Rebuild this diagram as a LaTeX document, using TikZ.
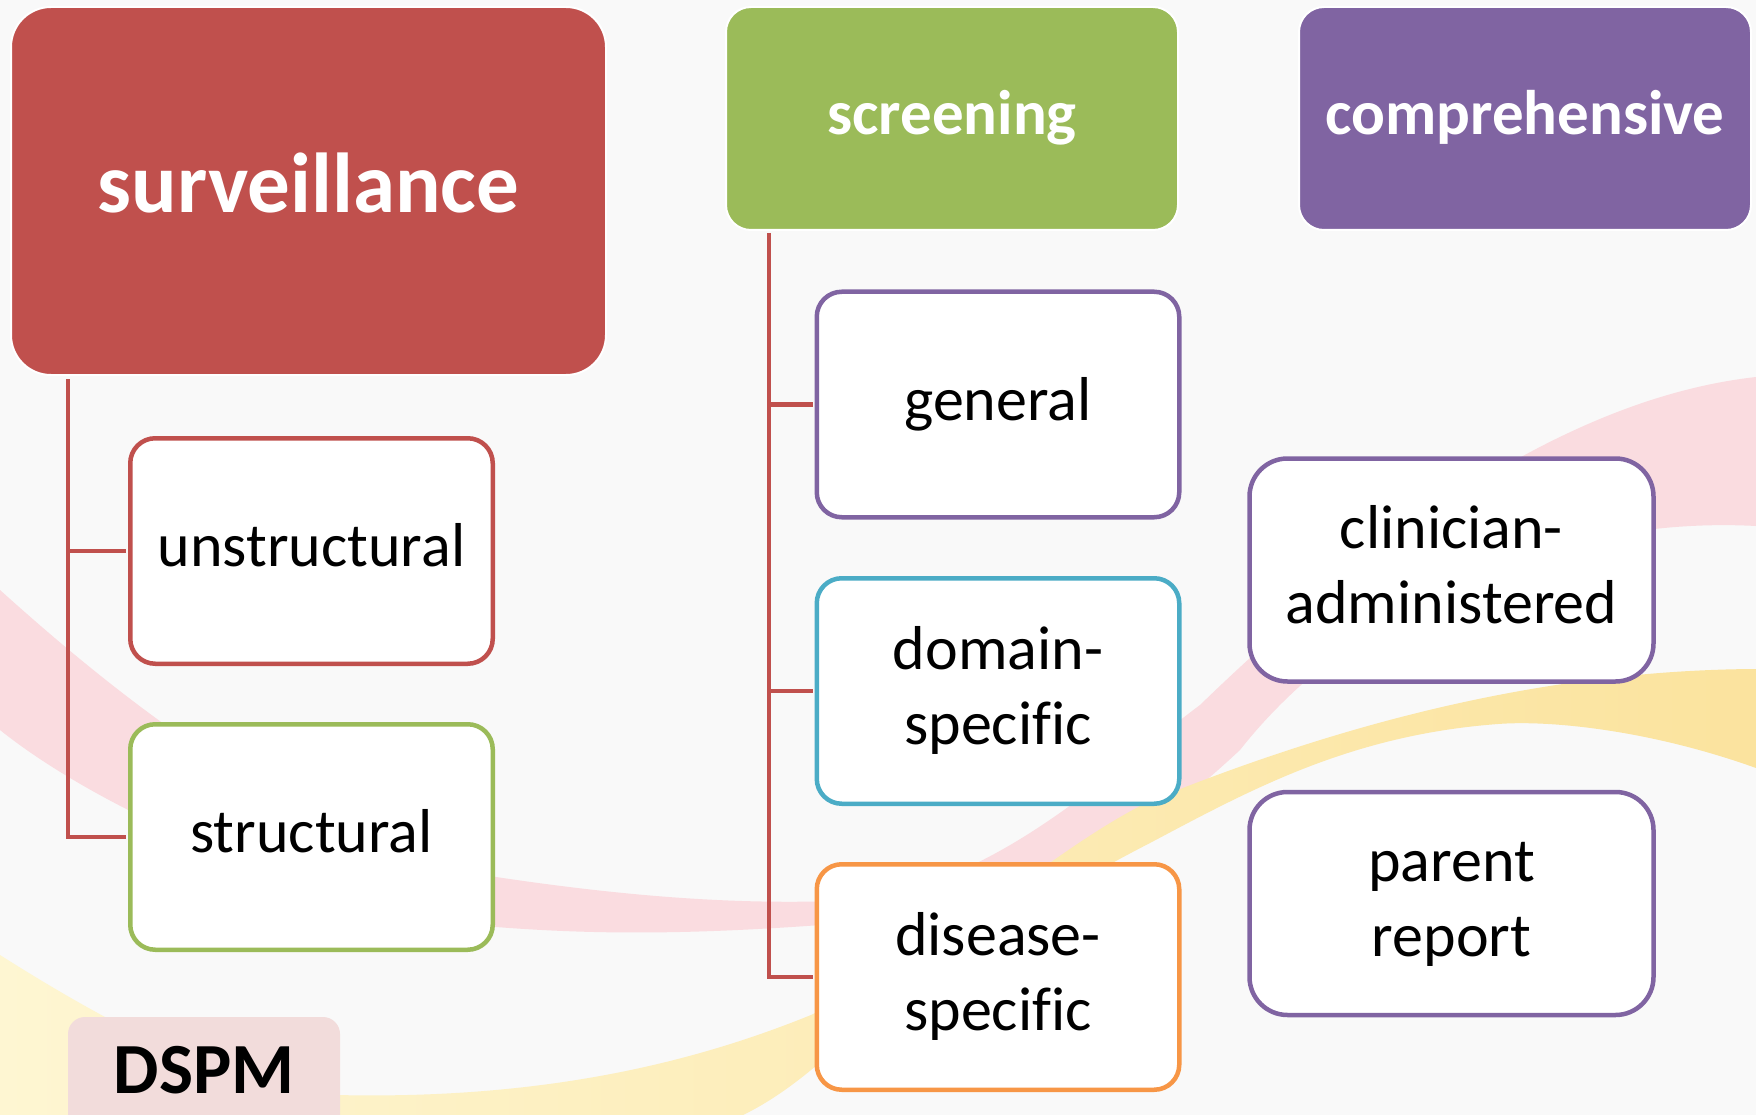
\documentclass[tikz,border=0pt]{standalone}
\usepackage{fontspec}
\setmainfont[Ligatures=NoCommon]{Carlito}
\definecolor{survred}{HTML}{C0504D}
\definecolor{scrgreen}{HTML}{9BBB59}
\definecolor{comppurple}{HTML}{8064A2}
\definecolor{domblue}{HTML}{4BACC6}
\definecolor{disorange}{HTML}{F79646}
\definecolor{dspmpink}{HTML}{F2DCDB}
\definecolor{bgcol}{HTML}{F9F9F9}
\definecolor{pinkband}{HTML}{FADCE0}
\definecolor{yellowL}{HTML}{FEF6D2}
\definecolor{yellowR}{HTML}{FBE39E}
\begin{document}
\begin{tikzpicture}[x=1pt,y=-1pt,
  hdr/.style={rectangle, rounded corners=25pt, draw=white, line width=2pt, text=white, inner sep=0pt,
    font=\bfseries\fontsize{63}{76}\selectfont, text height=47.25pt, text depth=15.75pt,
    minimum width=452pt, minimum height=223pt},
  itembox/.style={rectangle, rounded corners=25pt, fill=white, line width=4.5pt, inner sep=0pt,
    minimum width=362.5pt, minimum height=225.5pt, align=center,
    font=\fontsize{62}{75}\selectfont, text height=46.5pt, text depth=15.5pt},
  twoline/.style={text height=121.5pt, text depth=15.5pt},
  conn/.style={draw=survred, line width=4.5pt, shorten >=2pt}]
\useasboundingbox (0,0) rectangle (1756,1115);
\clip (0,0) rectangle (1756,1115);
\fill[bgcol] (0,0) rectangle (1756,1115);
% background swooshes
\fill[pinkband] (0,590) .. controls (100,680) and (300,850) .. (496,877)
  .. controls (650,900) and (760,905) .. (860,900)
  .. controls (1000,880) and (1100,780) .. (1200,705)
  .. controls (1350,560) and (1550,400) .. (1756,377)
  -- (1756,526) .. controls (1550,515) and (1350,610) .. (1240,750)
  .. controls (1100,880) and (1000,920) .. (860,922)
  .. controls (700,935) and (600,935) .. (496,927)
  .. controls (300,900) and (100,810) .. (0,730) -- cycle;
\shade[left color=yellowL, right color=yellowR] (0,955) .. controls (150,1050) and (250,1090) .. (336,1095)
  .. controls (550,1100) and (700,1060) .. (811,1015)
  .. controls (950,950) and (1050,850) .. (1150,801)
  .. controls (1350,720) and (1550,670) .. (1756,669)
  -- (1756,768) .. controls (1650,730) and (1550,720) .. (1498,724)
  .. controls (1350,735) and (1250,790) .. (1150,843)
  .. controls (1000,920) and (900,1000) .. (811,1070)
  .. controls (750,1120) and (700,1140) .. (600,1150) -- (0,1150) -- cycle;
% header boxes
\node[hdr, fill=survred, minimum width=595pt, minimum height=368pt, rounded corners=40pt,
  font=\bfseries\fontsize{85}{102}\selectfont, text height=63.75pt, text depth=21.25pt]
  (surv) at (308.5,191) {surveillance};
\node[hdr, fill=scrgreen] (scr) at (952,118.5) {screening};
\node[hdr, fill=comppurple] (comp) at (1525,118.5) {comprehensive};
% item boxes
\node[itembox, draw=survred] (unstr) at (311.5,551) {unstructural};
\node[itembox, draw=scrgreen] (str) at (311.5,837) {structural};
\node[itembox, draw=comppurple] (gen) at (998,404.5) {general};
\node[itembox, twoline, draw=domblue] (dom) at (998,691) {domain-\\specific};
\node[itembox, twoline, draw=disorange] (dis) at (998,977) {disease-\\specific};
\node[itembox, twoline, draw=comppurple, minimum width=404pt, minimum height=223pt, rounded corners=38pt]
  (clin) at (1451.5,570) {clinician-\\administered};
\node[itembox, twoline, draw=comppurple, minimum width=404pt, minimum height=223pt, rounded corners=38pt]
  (par) at (1451.5,903.5) {parent\\report};
% DSPM label
\node[rectangle, fill=dspmpink, rounded corners=17pt, minimum width=272pt, minimum height=116pt,
  inner sep=0pt, font=\bfseries\fontsize{72}{86}\selectfont, text height=54pt, text depth=18pt]
  (dspm) at (204,1075) {DSPM};
% connectors
\coordinate (sv) at (68,379);
\coordinate (sc) at (769,233);
\draw[conn] (sv) |- (str.west);
\draw[conn] (sv |- unstr.west) -- (unstr.west);
\draw[conn] (sc) |- (dis.west);
\draw[conn] (sc |- gen.west) -- (gen.west);
\draw[conn] (sc |- dom.west) -- (dom.west);
\end{tikzpicture}
\end{document}
